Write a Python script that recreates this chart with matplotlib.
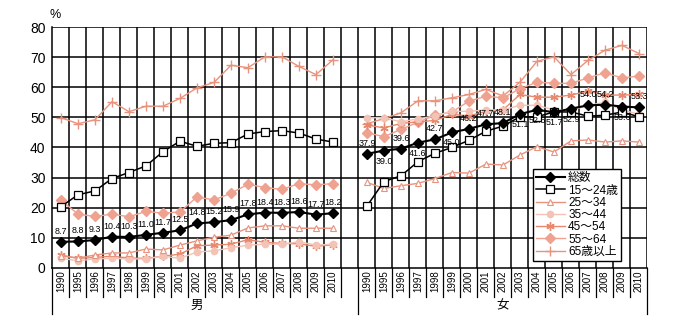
import matplotlib
matplotlib.use("Agg")
import matplotlib.pyplot as plt
import matplotlib.transforms as mtransforms

plt.rcParams['font.family'] = ['Liberation Sans', 'Noto Sans CJK JP', 'DejaVu Sans']

years = ["1990", "1995", "1996", "1997", "1998", "1999", "2000", "2001", "2002",
         "2003", "2004", "2005", "2006", "2007", "2008", "2009", "2010"]
groups = ["男", "女"]
series_names = ["総数", "15～24歳", "25～34", "35～44", "45～54", "55～64", "65歳以上"]

# male
m_total = [8.7, 8.8, 9.3, 10.4, 10.3, 11.0, 11.7, 12.5, 14.8, 15.2, 15.9, 17.8, 18.4, 18.3, 18.6, 17.7, 18.2]
m_1524 = [20.4, 24.3, 25.6, 29.7, 31.7, 33.9, 38.6, 42.1, 40.4, 41.4, 41.6, 44.5, 45.3, 45.6, 44.8, 42.8, 41.8]
m_2534 = [4.0, 3.3, 4.3, 5.0, 5.0, 6.3, 6.0, 7.6, 9.0, 10.2, 10.9, 13.3, 14.0, 14.0, 13.2, 13.2, 13.2]
m_3544 = [3.2, 2.4, 3.0, 3.2, 3.0, 3.0, 3.9, 3.2, 5.3, 5.7, 6.7, 7.6, 7.9, 7.9, 8.7, 7.6, 7.9]
m_4554 = [4.3, 3.2, 3.5, 3.9, 3.3, 3.2, 3.9, 4.6, 7.4, 7.6, 7.9, 9.4, 8.5, 8.2, 8.0, 7.2, 7.7]
m_5564 = [22.5, 17.9, 17.1, 17.9, 17.0, 18.8, 18.2, 18.6, 23.6, 22.6, 24.8, 27.8, 26.7, 26.1, 28.0, 27.6, 28.0]
m_65 = [49.9, 47.9, 49.2, 55.2, 51.9, 53.7, 53.7, 56.3, 59.8, 61.6, 67.3, 66.5, 70.1, 70.1, 66.9, 64.2, 69.1]

# female
f_total = [37.9, 39.0, 39.6, 41.6, 42.7, 45.0, 46.2, 47.7, 48.1, 51.1, 52.5, 51.7, 52.9, 54.0, 54.2, 53.6, 53.3]
f_1524 = [20.6, 28.7, 30.6, 35.3, 38.1, 40.0, 42.4, 45.4, 47.1, 50.2, 50.2, 51.8, 51.8, 50.4, 50.7, 51.8, 50.2]
f_2534 = [28.4, 26.4, 27.3, 28.1, 29.7, 31.7, 31.5, 34.5, 34.2, 37.5, 40.3, 38.5, 42.2, 42.5, 41.8, 42.2, 41.8]
f_3544 = [49.9, 49.9, 48.5, 49.5, 50.5, 52.0, 52.0, 52.5, 52.5, 54.0, 54.0, 52.5, 52.3, 54.0, 55.0, 52.5, 51.0]
f_4554 = [47.5, 46.5, 48.0, 48.5, 49.0, 51.0, 50.5, 52.0, 52.5, 57.6, 56.7, 56.7, 57.4, 58.7, 57.4, 57.4, 57.6]
f_5564 = [44.9, 43.6, 46.0, 48.4, 50.7, 51.8, 55.4, 57.0, 56.5, 59.5, 61.7, 61.3, 61.3, 63.1, 64.8, 63.1, 63.7]
f_65 = [47.9, 49.6, 51.5, 55.5, 55.5, 56.5, 57.6, 59.3, 57.1, 61.7, 68.6, 70.1, 64.2, 68.9, 72.3, 73.9, 71.2]

# label above (+1) or below (-1) for the female totals
f_label_side = [1, -1, 1, -1, 1, -1, 1, 1, 1, -1, -1, -1, -1, 1, 1, -1, 1]

SALMON = "#E8937D"
styles = [
    dict(color="black", marker="D", markersize=5, mfc="black", mec="black", lw=1.5),
    dict(color="black", marker="s", markersize=6, mfc="white", mec="black", lw=1.1, mew=0.9),
    dict(color=SALMON, marker="^", markersize=5, mfc="white", mec=SALMON, lw=1.0, mew=0.8),
    dict(color="#F3C3B6", marker="o", markersize=4.5, mfc="#F3C3B6", mec="#F3C3B6", lw=1.0),
    dict(color="#E8896F", marker=(6, 2, 0), markersize=6, mfc="#E8896F", mec="#E8896F", lw=1.0, mew=1.0),
    dict(color="#EFA28F", marker="D", markersize=5, mfc="#EFA28F", mec="#EFA28F", lw=1.0),
    dict(color=SALMON, marker="+", markersize=7, mec=SALMON, lw=1.0, mew=1.0),
]

n = len(years)
x_m = [i + 0.5 for i in range(n)]
x_f = [n + 1 + i + 0.5 for i in range(n)]
total_slots = 2 * n + 1

fig = plt.figure(figsize=(6.79, 3.23), dpi=100)
ax = fig.add_axes([0.0773, 0.1703, 0.8763, 0.7461])

male = [m_total, m_1524, m_2534, m_3544, m_4554, m_5564, m_65]
female = [f_total, f_1524, f_2534, f_3544, f_4554, f_5564, f_65]
handles = {}
for k in [6, 5, 4, 3, 2, 1, 0]:
    st = styles[k]
    h, = ax.plot(x_m, male[k], zorder=3 + (7 - k) * 0.1, **st)
    ax.plot(x_f, female[k], zorder=3 + (7 - k) * 0.1, **st)
    handles[k] = h

# value labels for totals
LAB_FS = 6.4
for x, v in zip(x_m, m_total):
    ax.text(x, v + 2.0, f"{v:.1f}", ha="center", va="bottom", fontsize=LAB_FS, zorder=6)
for x, v, s in zip(x_f, f_total, f_label_side):
    if s > 0:
        ax.text(x, v + 2.0, f"{v:.1f}", ha="center", va="bottom", fontsize=LAB_FS, zorder=6)
    else:
        ax.text(x, v - 2.0, f"{v:.1f}", ha="center", va="top", fontsize=LAB_FS, zorder=6)

ax.set_xlim(0, total_slots)
ax.set_ylim(0, 80)
ax.set_yticks(range(0, 81, 10))
ax.tick_params(axis="y", length=0, labelsize=10, pad=5)
ax.set_xticks([])
for y in range(10, 81, 10):
    ax.axhline(y, color="black", lw=1.1, zorder=1)
for xv in range(1, total_slots + 1):
    ax.axvline(xv, color="black", lw=1.1, zorder=1)
for side in ["top", "right"]:
    ax.spines[side].set_visible(False)
ax.spines["left"].set_linewidth(1.1)
ax.spines["bottom"].set_linewidth(1.1)

# category label boxes below the axis
trans = mtransforms.blended_transform_factory(ax.transData, ax.transAxes)
long_lines = [0, n + 1, total_slots]
for xv in range(0, total_slots + 1):
    if xv in long_lines:
        ax.plot([xv, xv], [0, -0.19], color="black", lw=0.9, transform=trans, clip_on=False)
    elif xv <= n or xv > n + 1:
        ax.plot([xv, xv], [0, -0.12], color="black", lw=0.9, transform=trans, clip_on=False)
for xs in (x_m, x_f):
    for x, lab in zip(xs, years):
        ax.text(x, -0.01, lab, rotation=90, ha="center", va="top", fontsize=7,
                transform=trans)
ax.text(n / 2, -0.158, groups[0], ha="center", va="center", fontsize=9, transform=trans)
ax.text(n + 1 + n / 2, -0.158, groups[1], ha="center", va="center", fontsize=9, transform=trans)

ax.text(-0.2, 82, "%", ha="left", va="bottom", fontsize=9)

leg = ax.legend([handles[k] for k in range(7)], series_names, loc="lower left",
                bbox_to_anchor=(0.808, 0.03), fontsize=8.5, frameon=True, fancybox=False,
                edgecolor="black", framealpha=1, handlelength=2.4, labelspacing=0.02,
                borderpad=0.25, handletextpad=0.3, borderaxespad=0)
leg.get_frame().set_linewidth(1.0)
leg.set_zorder(10)

fig.savefig("out.png", dpi=100)
